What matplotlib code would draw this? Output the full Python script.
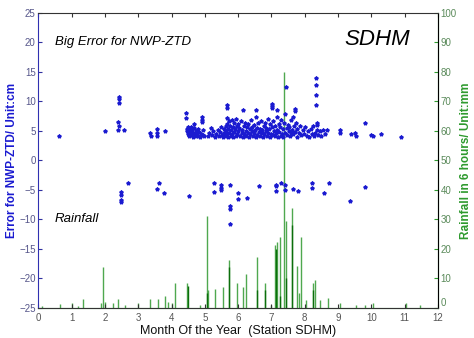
import matplotlib
matplotlib.use("Agg")
import matplotlib.pyplot as plt

plt.rcParams["font.family"] = ["Liberation Sans", "DejaVu Sans"]

# ---- data ----
pos_month = [0.63, 2.0, 2.42, 2.42, 2.43, 2.40, 2.41, 2.40, 2.58, 3.35, 3.37, 3.57, 3.57, 3.57, 3.8, 4.42, 4.42,
             4.45, 4.47, 4.48, 4.50, 4.52, 4.53, 4.55, 4.57, 4.58, 4.60, 4.62, 4.63, 4.65, 4.67, 4.68, 4.70, 4.72,
             4.73, 4.75, 4.78, 4.80, 4.82, 4.85, 4.88, 4.90, 4.92, 4.92, 4.93, 4.95, 4.98,
             5.08, 5.12, 5.18, 5.22, 5.25, 5.30, 5.33, 5.38, 5.42, 5.45, 5.48, 5.50,
             5.55, 5.57, 5.58, 5.60, 5.62, 5.63, 5.65, 5.65, 5.65, 5.66, 5.67, 5.68, 5.70, 5.72, 5.73, 5.75, 5.77,
             5.78, 5.80, 5.82, 5.83, 5.85, 5.87, 5.88, 5.90, 5.92, 5.93, 5.95, 5.97, 5.98, 6.00, 6.02, 6.05,
             6.08, 6.10, 6.12, 6.14, 6.15, 6.16, 6.18, 6.20, 6.22, 6.24, 6.26, 6.28, 6.30, 6.32, 6.34, 6.36, 6.38,
             6.40, 6.42, 6.44, 6.46, 6.48, 6.50, 6.52, 6.54, 6.55, 6.56, 6.58, 6.60, 6.62,
             6.65, 6.67, 6.69, 6.71, 6.73, 6.75, 6.77, 6.79, 6.81, 6.83, 6.85, 6.87, 6.89, 6.91, 6.93, 6.95, 6.97,
             6.99, 7.01, 7.03, 7.03, 7.03, 7.04, 7.06, 7.08, 7.10, 7.12, 7.14, 7.16, 7.18, 7.18, 7.20, 7.22, 7.24,
             7.26, 7.28, 7.30, 7.32, 7.34, 7.36, 7.38, 7.40, 7.42, 7.44, 7.46,
             7.48, 7.50, 7.52, 7.54, 7.56, 7.58, 7.60, 7.62, 7.64, 7.66, 7.68, 7.70, 7.72, 7.72, 7.74, 7.76, 7.78,
             7.82, 7.86, 7.90, 7.94, 7.98,
             8.02, 8.06, 8.10, 8.14, 8.18, 8.22, 8.25, 8.28, 8.30, 8.34, 8.34, 8.34, 8.34, 8.36, 8.37, 8.38, 8.40,
             8.45, 8.50, 8.55, 8.60, 8.67,
             9.07, 9.07, 9.40, 9.50, 9.55, 9.82, 10.0, 10.05, 10.3, 10.9]
pos_err = [4.1, 5.0, 10.7, 10.4, 9.7, 6.5, 5.9, 5.2, 5.2, 4.6, 4.1, 5.3, 4.7, 4.1, 5.0, 8.0, 7.2,
           4.9, 5.3, 4.4, 5.6, 4.1, 4.8, 5.1, 4.3, 5.7, 4.6, 5.2, 3.9, 4.7, 5.5, 6.1, 4.4, 5.0,
           4.1, 4.6, 5.3, 4.2, 4.8, 4.0, 4.5, 6.5, 6.9, 7.4, 5.2, 4.3, 4.1,
           4.2, 4.6, 5.5, 4.3, 4.9, 4.0, 4.5, 5.2, 4.1, 4.8, 5.6, 4.3,
           4.0, 4.6, 5.3, 4.2, 5.8, 4.9, 7.1, 8.8, 9.3, 6.2, 4.4, 5.4, 3.9, 6.6, 4.7, 5.9, 4.2,
           5.1, 6.8, 4.5, 5.6, 4.0, 6.3, 4.8, 5.3, 4.1, 7.0, 5.8, 4.4, 6.1, 4.9, 5.5, 4.2,
           6.6, 4.6, 5.2, 4.0, 8.6, 5.9, 4.4, 6.4, 5.0, 4.2, 5.6, 4.7, 6.2, 3.9, 5.3, 4.5, 6.9,
           4.9, 5.7, 4.1, 6.0, 4.6, 5.2, 4.0, 7.3, 8.5, 5.5, 4.3, 6.3, 4.8,
           5.4, 4.1, 6.7, 4.6, 5.1, 3.9, 5.8, 4.4, 6.4, 4.9, 5.5, 4.2, 7.0, 4.7, 5.3, 4.0, 6.1,
           4.5, 5.7, 8.8, 9.2, 9.6, 4.3, 6.6, 5.0, 4.1, 5.9, 4.6, 7.4, 8.5, 5.2, 3.9, 6.2, 4.8,
           5.6, 4.2, 6.9, 4.5, 5.3, 4.0, 6.4, 7.8, 4.7, 12.5, 5.5,
           4.3, 6.0, 4.9, 5.6, 4.1, 6.8, 4.6, 5.2, 7.3, 4.4, 5.8, 8.7, 8.3, 4.8, 6.3, 4.0, 5.4,
           4.7, 5.9, 4.3, 5.1, 4.5,
           5.6, 4.2, 4.9, 4.0, 5.3, 4.4, 5.8, 4.1, 4.7, 9.4, 11.0, 12.7, 13.9, 5.1, 6.4, 6.0, 4.3,
           4.9, 4.1, 5.2, 4.5, 5.1,
           5.2, 4.6, 4.4, 4.6, 4.2, 6.4, 4.3, 4.1, 4.4, 4.0]

neg_month = [2.47, 2.47, 2.47, 2.47, 2.7, 3.55, 3.62, 3.78, 4.53, 5.27, 5.27, 5.48, 5.48, 5.49, 5.74, 5.74,
             5.74, 5.74, 5.98, 5.98, 6.25, 6.63, 7.15, 7.15, 7.15, 7.28, 7.4, 7.4, 7.65, 7.8, 8.23, 8.23,
             8.58, 8.73, 9.35, 9.8]
neg_err = [-5.3, -5.8, -6.7, -7.1, -3.9, -4.9, -3.9, -5.5, -6.0, -3.9, -5.4, -4.2, -4.7, -5.0, -4.2, -7.8,
           -8.3, -10.8, -5.6, -6.6, -6.3, -4.4, -4.1, -4.4, -5.2, -3.9, -4.1, -5.0, -4.8, -5.2, -3.9, -4.6,
           -5.6, -3.9, -6.9, -4.5]

rain_month = [0.1, 0.65, 1.0, 1.2, 1.35, 1.88, 1.94, 2.0, 2.25, 2.4, 2.6, 3.0, 3.35, 3.6, 3.8, 3.9, 4.0,
              4.1, 4.47, 4.85, 5.05, 5.1, 5.3, 5.55, 5.72, 5.97, 6.15, 6.22, 6.58, 6.82, 7.0, 7.12, 7.17,
              7.25, 7.37, 7.43, 7.62, 7.77, 7.83, 7.9, 8.03, 8.25, 8.32, 8.47, 8.7, 9.05, 9.55, 9.8, 10.05,
              11.05, 11.45]
rain_mm = [0.5, 1.4, 1.5, 0.5, 3.0, 1.5, 14.0, 2.0, 1.5, 3.0, 1.0, 1.5, 3.0, 3.0, 4.2, 2.0, 1.5,
           8.4, 8.4, 1.0, 31.0, 6.0, 6.3, 7.2, 16.3, 8.6, 7.2, 11.5, 17.4, 8.6, 1.0, 21.4, 22.3,
           24.2, 80.0, 29.3, 34.0, 14.2, 5.0, 24.0, 2.8, 8.4, 9.5, 2.6, 3.4, 1.5, 1.0, 1.0, 1.5,
           1.5, 1.0]
# darker inner cores of some rain bars
core_month = [4.48, 5.07, 5.72, 6.58, 6.82, 7.13, 7.26, 7.62, 7.45, 8.25]
core_mm = [7.3, 5.0, 13.7, 6.0, 6.0, 20.0, 4.0, 28.0, 10.0, 6.0]

xticks = list(range(0, 13))
left_ticks = list(range(-25, 26, 5))
right_ticks = list(range(0, 101, 10))

# ---- figure ----
fig = plt.figure(figsize=(4.74, 3.38), dpi=100)
ax = fig.add_axes([0.081, 0.089, 0.843, 0.873])
ax2 = ax.twinx()

blue = "#1a1ad0"
green = "#2e9a2e"

ax2.vlines(rain_month, 0, rain_mm, color="#4fa84f", linewidth=1.0)
ax2.vlines(core_month, 0, core_mm, color="#0c6e0c", linewidth=1.0)
ax2.set_ylim(0, 100)
ax2.set_yticks(right_ticks)

ax.set_zorder(ax2.get_zorder() + 1)
ax.patch.set_visible(False)
ax.plot(pos_month, pos_err, linestyle="none", marker="*", markersize=2.8, color=blue)
ax.plot(neg_month, neg_err, linestyle="none", marker="*", markersize=2.8, color=blue)
ax.set_xlim(0, 12)
ax.set_ylim(-25, 25)
ax.set_xticks(xticks)
ax.set_yticks(left_ticks)

tick_kw = dict(direction="in", length=3, labelsize=7)
ax.tick_params(axis="x", top=True, colors="#333333", labelcolor="#555555", pad=4, **tick_kw)
ax.tick_params(axis="y", colors="#3030a0", labelcolor="#55558a", pad=2, **tick_kw)
ax2.tick_params(axis="y", colors=green, labelcolor="#5a8a5a", pad=2, **tick_kw)
ax2.get_yticklabels()[0].set_verticalalignment("bottom")

for s in ["top", "bottom"]:
    ax.spines[s].set_color("#333333")
ax.spines["left"].set_color("#3030b0")
ax2.spines["right"].set_color(green)
ax2.spines["left"].set_visible(False)
ax2.spines["top"].set_visible(False)
ax2.spines["bottom"].set_color(green)

ax.set_ylabel("Error for NWP-ZTD/ Unit:cm", color=blue, fontsize=8.5, fontweight="bold", labelpad=1)
ax2.set_ylabel("Rainfall in 6 hours/ Unit:mm", color=green, fontsize=8.5, fontweight="bold", labelpad=2)
ax.set_xlabel("Month Of the Year  (Station SDHM)", fontsize=9, color="#111111", labelpad=1)

ax.text(0.5, 20, "Big Error for NWP-ZTD", fontsize=9.5, style="italic", va="center", ha="left")
ax.text(11.15, 20.5, "SDHM", fontsize=16, style="italic", va="center", ha="right")
ax.text(0.5, -10, "Rainfall", fontsize=9.5, style="italic", va="center", ha="left")

fig.savefig("out.png", dpi=100)
